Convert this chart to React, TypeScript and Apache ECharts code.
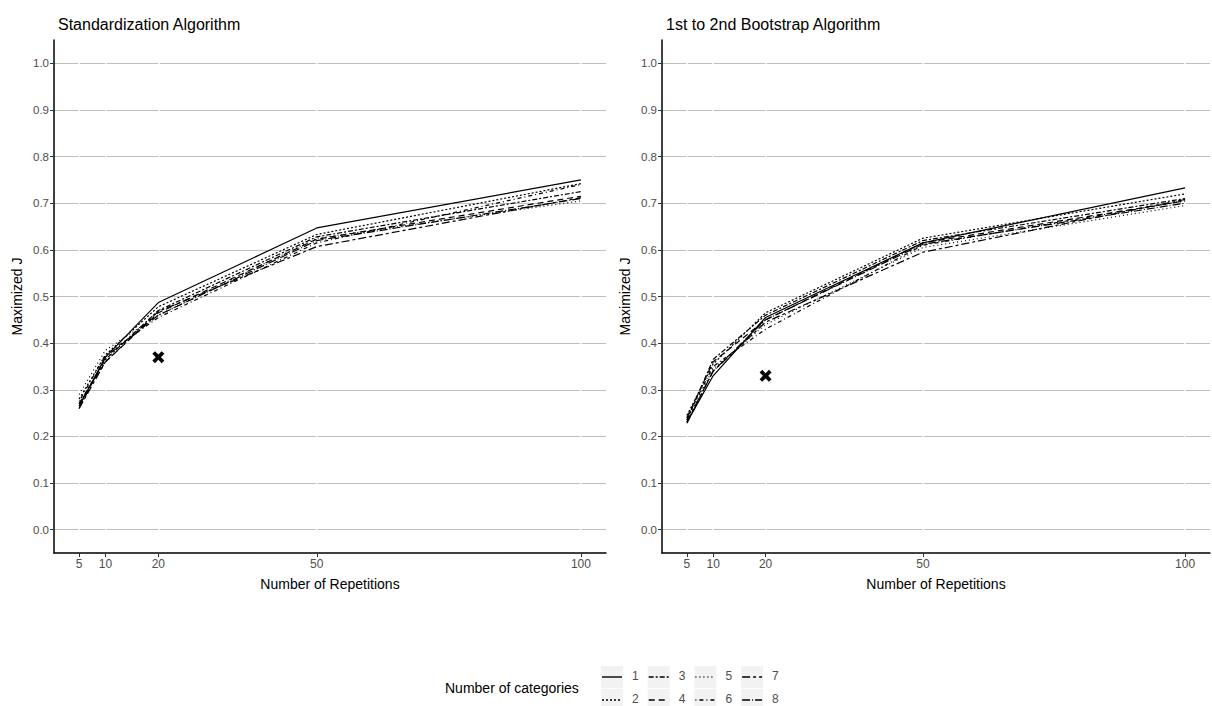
import React, { useEffect, useRef } from "react";
import * as echarts from "echarts";

const repetitions = [5, 10, 20, 50, 100];
const xTicks = [5, 10, 20, 50, 100];
const yTicks = [0, 0.1, 0.2, 0.3, 0.4, 0.5, 0.6, 0.7, 0.8, 0.9, 1.0];
const categories = ["1", "2", "3", "4", "5", "6", "7", "8"];
const panelTitles = ["Standardization Algorithm", "1st to 2nd Bootstrap Algorithm"];

const standardization: number[][] = [
  [0.265, 0.37, 0.487, 0.647, 0.75],
  [0.28, 0.375, 0.478, 0.633, 0.742],
  [0.27, 0.365, 0.47, 0.628, 0.725],
  [0.27, 0.36, 0.465, 0.623, 0.715],
  [0.29, 0.385, 0.46, 0.625, 0.705],
  [0.275, 0.375, 0.455, 0.615, 0.74],
  [0.26, 0.36, 0.468, 0.607, 0.712],
  [0.26, 0.37, 0.46, 0.62, 0.71],
];

const bootstrap: number[][] = [
  [0.23, 0.33, 0.455, 0.615, 0.733],
  [0.245, 0.355, 0.465, 0.625, 0.72],
  [0.235, 0.365, 0.46, 0.62, 0.71],
  [0.24, 0.36, 0.45, 0.615, 0.705],
  [0.235, 0.345, 0.44, 0.605, 0.695],
  [0.24, 0.35, 0.43, 0.61, 0.705],
  [0.232, 0.34, 0.445, 0.595, 0.708],
  [0.228, 0.34, 0.45, 0.612, 0.7],
];

const markerStandardization = [[20, 0.37]];
const markerBootstrap = [[20, 0.33]];

const dashes: (number[] | "solid")[] = [
  "solid",
  [2, 2],
  [5, 2, 2, 2],
  [6, 4],
  [1, 3],
  [1, 3, 4, 3],
  [8, 3, 3, 3],
  [8, 2, 1, 2],
];

const FONT = "Liberation Sans, Arial, sans-serif";
const X_PATH =
  "path://M2.2,0 L5,2.8 L7.8,0 L10,2.2 L7.2,5 L10,7.8 L7.8,10 L5,7.2 L2.2,10 L0,7.8 L2.8,5 L0,2.2 Z";

export default function App() {
  const ref = useRef<HTMLDivElement>(null);

  useEffect(() => {
    if (!ref.current) return;
    const chart = echarts.init(ref.current, null, { renderer: "svg" });

    const grids = [
      { left: 54, top: 40, width: 552, height: 513 },
      { left: 662, top: 40, width: 548, height: 513 },
    ];

    const xAxes = grids.map((_, i) => ({
      type: "value",
      gridIndex: i,
      min: 0.25,
      max: 104.75,
      z: 1,
      name: "Number of Repetitions",
      nameLocation: "middle",
      nameGap: 24,
      nameTextStyle: { fontSize: 14, color: "#000", fontFamily: FONT },
      axisLine: { show: true, onZero: false, lineStyle: { color: "#000", width: 1.5 } },
      axisTick: { show: true, length: 4, customValues: xTicks, lineStyle: { color: "#333" } },
      axisLabel: {
        customValues: xTicks,
        color: "#4d4d4d",
        fontSize: 12,
        fontFamily: FONT,
        margin: 5,
        showMinLabel: true,
        showMaxLabel: true,
      },
      splitLine: { show: true, lineStyle: { color: "#ffffff", width: 1.5 } },
    }));

    const yAxes = grids.map((_, i) => ({
      type: "value",
      gridIndex: i,
      min: -0.05,
      max: 1.05,
      z: 0,
      name: "Maximized J",
      nameLocation: "middle",
      nameGap: 30,
      nameTextStyle: { fontSize: 14, color: "#000", fontFamily: FONT },
      axisLine: { show: true, onZero: false, lineStyle: { color: "#000", width: 1.5 } },
      axisTick: { show: true, length: 4, customValues: yTicks, lineStyle: { color: "#333" } },
      axisLabel: {
        customValues: yTicks,
        color: "#4d4d4d",
        fontSize: 11.5,
        fontFamily: FONT,
        margin: 5,
        formatter: (v: number) => v.toFixed(1),
      },
      splitLine: { show: true, lineStyle: { color: "#bebebe", width: 1 } },
    }));

    const series: any[] = [];
    [standardization, bootstrap].forEach((panel, p) => {
      panel.forEach((vals, c) => {
        series.push({
          type: "line",
          name: categories[c],
          xAxisIndex: p,
          yAxisIndex: p,
          data: repetitions.map((r, k) => [r, vals[k]]),
          symbol: "none",
          z: 3,
          lineStyle: { color: "#000", width: 1.2, type: dashes[c] },
        });
      });
    });
    [markerStandardization, markerBootstrap].forEach((m, p) => {
      series.push({
        type: "scatter",
        xAxisIndex: p,
        yAxisIndex: p,
        data: m,
        symbol: X_PATH,
        symbolSize: 12,
        z: 4,
        itemStyle: { color: "#000", opacity: 1 },
      });
    });

    const legendItems: any[] = [
      {
        type: "text",
        left: 445,
        top: 681,
        style: { text: "Number of categories", fontSize: 14, fill: "#000", fontFamily: FONT },
      },
    ];
    categories.forEach((cat, i) => {
      const col = Math.floor(i / 2);
      const row = i % 2;
      const bx = 601 + col * 46.7;
      const by = 666 + row * 23;
      legendItems.push({
        type: "rect",
        shape: { x: bx, y: by, width: 22, height: 22 },
        style: { fill: "#f2f2f2" },
      });
      legendItems.push({
        type: "line",
        shape: { x1: bx + 1, y1: by + 11, x2: bx + 21, y2: by + 11 },
        style: {
          stroke: "#000",
          lineWidth: 1.4,
          lineDash: dashes[i] === "solid" ? null : (dashes[i] as number[]),
        },
      });
      legendItems.push({
        type: "text",
        left: bx + 31,
        top: by + 4,
        style: { text: cat, fontSize: 12, fill: "#4d4d4d", fontFamily: FONT },
      });
    });

    chart.setOption({
      animation: false,
      backgroundColor: "#fff",
      title: panelTitles.map((t, i) => ({
        text: t,
        left: i === 0 ? 53 : 661,
        top: 11,
        textStyle: { fontSize: 16, fontWeight: "normal", color: "#000", fontFamily: FONT },
      })),
      grid: grids,
      xAxis: xAxes,
      yAxis: yAxes,
      series,
      graphic: legendItems,
    });

    return () => chart.dispose();
  }, []);

  return (
    <div
      ref={ref}
      style={{ position: "absolute", left: 0, top: 0, width: 1212, height: 706 }}
    />
  );
}
